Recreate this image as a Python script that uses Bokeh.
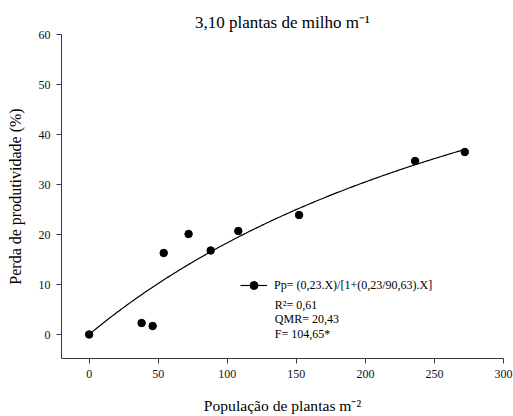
import numpy as np
from bokeh.plotting import figure
from bokeh.models import Label, Legend, LegendItem, FixedTicker, Range1d
from bokeh.embed import file_html
from bokeh.resources import INLINE

# ---- data ----
populacao = [0, 38, 46, 54, 72, 88, 108, 152, 236, 272]
perda = [0.0, 2.3, 1.7, 16.3, 20.1, 16.8, 20.7, 23.9, 34.7, 36.5]
# fitted model stated on the chart: Pp = (0,23.X)/[1+(0,23/90,63).X]
coef_i = 0.23
coef_a = 90.63
x_ticks = [0, 50, 100, 150, 200, 250, 300]
y_ticks = [0, 10, 20, 30, 40, 50, 60]

title_text = "3,10 plantas de milho m\u207b\u00b9"
xlabel_text = "População de plantas m\u207b\u00b2"
ylabel_text = "Perda de produtividade (%)"
eq_text = "Pp= (0,23.X)/[1+(0,23/90,63).X]"
r2_text = "R\u00b2= 0,61"
qmr_text = "QMR= 20,43"
f_text = "F= 104,65*"

FONT = "Liberation Serif"

p = figure(width=513, height=416, output_backend="svg", toolbar_location=None,
           min_border_left=61, min_border_right=10, min_border_top=34, min_border_bottom=58,
           x_range=Range1d(-20, 300), y_range=Range1d(-4.8, 60))
p.outline_line_color = None
p.xgrid.visible = False
p.ygrid.visible = False
p.background_fill_color = "white"
p.border_fill_color = "white"

p.title.text = title_text
p.title.text_font = FONT
p.title.text_font_size = "17px"
p.title.text_font_style = "normal"
p.title.text_color = "black"
p.title.align = "center"
p.title.offset = 4
p.title.standoff = 5

for ax in (p.xaxis[0], p.yaxis[0]):
    ax.axis_line_color = "#3a3a3a"
    ax.major_tick_line_color = "#3a3a3a"
    ax.major_tick_out = 5
    ax.major_tick_in = 0
    ax.minor_tick_line_color = None
    ax.major_label_text_font = FONT
    ax.major_label_text_font_size = "12px"
    ax.major_label_text_color = "#111111"
    ax.major_label_standoff = 6
    ax.axis_label_text_font = FONT
    ax.axis_label_text_font_style = "normal"
    ax.axis_label_text_color = "black"
p.xaxis[0].ticker = FixedTicker(ticks=x_ticks)
p.yaxis[0].ticker = FixedTicker(ticks=y_ticks)
p.xaxis[0].axis_label = xlabel_text
p.xaxis[0].axis_label_text_font_size = "15.6px"
p.xaxis[0].axis_label_standoff = 16
p.yaxis[0].axis_label = ylabel_text
p.yaxis[0].axis_label_text_font_size = "16px"
p.yaxis[0].axis_label_standoff = 12

# fitted curve
xf = np.linspace(0, max(populacao), 200)
yf = coef_i * xf / (1 + (coef_i / coef_a) * xf)
curve = p.line(xf, yf, line_color="black", line_width=1.2)
pts = p.scatter(populacao, perda, size=7.5, marker="circle", fill_color="black", line_color="black")

legend = Legend(items=[LegendItem(label=eq_text, renderers=[curve, pts])],
                location=(179, 62.7), padding=0, margin=0,
                glyph_width=27, glyph_height=20, label_height=20, label_standoff=7,
                label_text_font=FONT, label_text_font_size="12px",
                label_text_color="black",
                border_line_color=None, background_fill_alpha=0)
p.add_layout(legend, "center")

def lab(x, y, text, size):
    p.add_layout(Label(x=x, y=y, x_units="screen", y_units="screen", text=text,
                       text_font=FONT, text_font_size=size, text_color="black",
                       text_align="left", text_baseline="alphabetic"))

# legend statistics
lab(213.3, 53.7, r2_text, "12px")
lab(213.3, 39.3, qmr_text, "12px")
lab(213.3, 24.3, f_text, "12px")

open("out.html", "w").write(file_html(p, INLINE))
